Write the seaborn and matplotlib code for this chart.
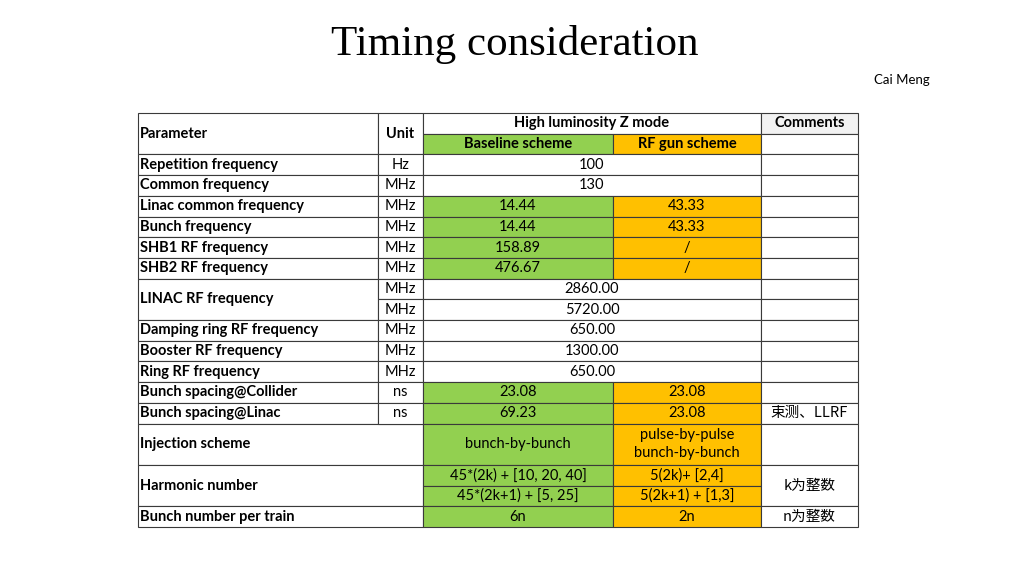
import matplotlib
matplotlib.use("Agg")
import matplotlib.pyplot as plt
from matplotlib.patches import Rectangle
import seaborn as sns

sns.set_theme(style="white")
plt.rcParams["font.family"] = ["Lato", "Noto Sans CJK SC", "Noto Sans CJK JP", "DejaVu Sans"]
plt.rcParams["text.color"] = "black"

title = "Timing consideration"
author = "Cai Meng"
headers = ["Parameter", "Unit", "High luminosity Z mode", "Baseline scheme", "RF gun scheme", "Comments"]
param_names = ["Repetition frequency", "Common frequency", "Linac common frequency", "Bunch frequency",
               "SHB1 RF frequency", "SHB2 RF frequency", "LINAC RF frequency", "Damping ring RF frequency",
               "Booster RF frequency", "Ring RF frequency", "Bunch spacing@Collider", "Bunch spacing@Linac",
               "Injection scheme", "Harmonic number", "Bunch number per train"]
param_spans = [1, 1, 1, 1, 1, 1, 2, 1, 1, 1, 1, 1, 2, 2, 1]
units = ["Hz", "MHz", "MHz", "MHz", "MHz", "MHz", "MHz", "MHz", "MHz", "MHz", "MHz", "ns", "ns"]
baseline_vals = ["100", "130", "14.44", "14.44", "158.89", "476.67", "2860.00", "5720.00", "650.00",
                 "1300.00", "650.00", "23.08", "69.23", "bunch-by-bunch", "45*(2k) + [10, 20, 40]",
                 "45*(2k+1) + [5, 25]", "6n"]
rfgun_vals = [None, None, "43.33", "43.33", "/", "/", None, None, None, None, None, "23.08", "23.08",
              "pulse-by-pulse\nbunch-by-bunch", "5(2k)+ [2,4]", "5(2k+1) + [1,3]", "2n"]
value_spans = [1] * 13 + [2, 1, 1, 1]
comments = [""] * 12 + ["束测、LLRF", "", "k为整数", "n为整数"]
comment_spans = [1] * 13 + [2, 2, 1]

GREEN, ORANGE, GRAY = "#92D050", "#FFC000", "#F2F2F2"
xs = [138, 378, 423, 613, 761, 858]
y0, h = 113, 20.7
fs = 10.5

fig = plt.figure(figsize=(10.24, 5.76), dpi=100)
ax = fig.add_axes([0, 0, 1, 1])
ax.set_xlim(0, 1024); ax.set_ylim(576, 0); ax.axis("off")

def cell(c0, c1, r0, span, text="", color="white", bold=False, ha="center", family=None):
    x, y = xs[c0], y0 + r0 * h
    w, hh = xs[c1] - x, span * h
    ax.add_patch(Rectangle((x, y), w, hh, facecolor=color, edgecolor="#3a3a3a", lw=0.8))
    tx = x + 2 if ha == "left" else x + w / 2
    kw = {"family": family} if family else {}
    ax.text(tx, y + hh / 2, text, ha=ha, va="center", fontsize=fs, color="black",
            fontweight="bold" if bold else "normal", linespacing=1.35, **kw)

cell(0, 1, 0, 2, headers[0], bold=True, ha="left")
cell(1, 2, 0, 2, headers[1], bold=True)
cell(2, 4, 0, 1, headers[2], bold=True)
cell(2, 3, 1, 1, headers[3], GREEN, bold=True)
cell(3, 4, 1, 1, headers[4], ORANGE, bold=True)
cell(4, 5, 0, 1, headers[5], GRAY, bold=True)
cell(4, 5, 1, 1)

r = 2
for name, sp in zip(param_names, param_spans):
    if r - 2 < len(units):
        cell(0, 1, r, sp, name, bold=True, ha="left")
    else:
        cell(0, 2, r, sp, name, bold=True, ha="left")
    r += sp
for i, u in enumerate(units):
    cell(1, 2, i + 2, 1, u)

r = 2
for b, g, sp in zip(baseline_vals, rfgun_vals, value_spans):
    if g is None:
        cell(2, 4, r, sp, b)
    else:
        cell(2, 3, r, sp, b, GREEN)
        cell(3, 4, r, sp, g, ORANGE)
    r += sp

r = 2
for c, sp in zip(comments, comment_spans):
    cell(4, 5, r, sp, c, family=["Noto Sans CJK SC", "Noto Sans CJK JP", "DejaVu Sans"])
    r += sp

ax.text(515, 44, title, ha="center", va="center", fontsize=31, family="Liberation Serif", color="black")
ax.text(930, 80, author, ha="right", va="center", fontsize=9.5, color="black")

fig.savefig("out.png", dpi=100)
